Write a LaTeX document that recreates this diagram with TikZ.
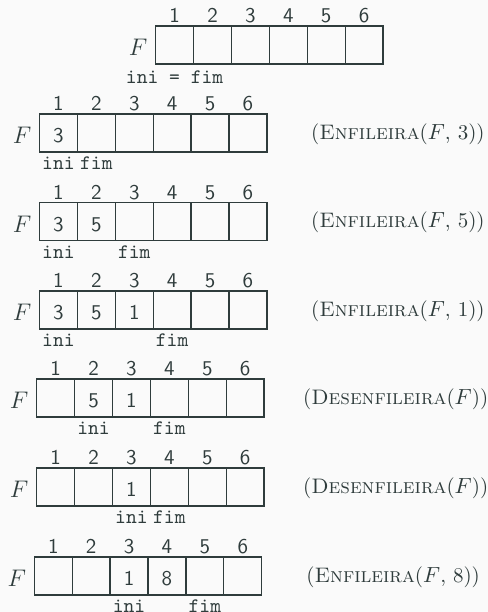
\documentclass[tikz,border=0pt]{standalone}
\usetikzlibrary{calc}
\definecolor{ink}{RGB}{47,60,60}
\definecolor{bg}{RGB}{250,250,250}
\newcommand\qrow[4]{% #1 name, #2 x0, #3 ytop, #4 contents
  \foreach \v [count=\i] in {#4} {
    \node[cell] (#1c\i) at ({#2+(\i-0.5)*37.9},{#3+19}) {\v};
    \node[idx] (#1n\i) at ({#2+(\i-0.5)*37.9},{#3-3.5}) {\i};
  }
  \node[qname] (#1F) at ({#2-17.5},{#3+29.7}) {$F$};
}
\begin{document}
\begin{tikzpicture}[x=0.5pt,y=-0.5pt,
  cell/.style={draw=ink, line width=0.65pt, text=ink, minimum width=18.95pt, minimum height=19pt,
    inner sep=0pt, outer sep=0pt, text height=9.7pt, text depth=0pt, font=\fontsize{10.5}{12}\sffamily},
  idx/.style={anchor=base, inner sep=0pt, text=ink, font=\fontsize{10.5}{12}\sffamily},
  ptr/.style={anchor=base, inner sep=0pt, text=ink, font=\fontsize{10.3}{12}\ttfamily},
  qname/.style={anchor=base, inner sep=0pt, text=ink, font=\fontsize{13}{15}\selectfont},
  op/.style={anchor=base west, inner sep=0pt, text=ink, font=\fontsize{10.5}{12}\selectfont}]
\fill[bg] (0,0) rectangle (488,612);
\useasboundingbox (0,0) rectangle (488,612);

% row 1
\qrow{a}{155.7}{26}{{},{},{},{},{},{}}
\node[ptr] (aptr) at ($(ac1.south)+(0,19)$) {ini = fim};

% row 2
\qrow{b}{39.5}{114}{3,{},{},{},{},{}}
\node[ptr] (bini) at ($(bc1.south)+(0,17.5)$) {ini};
\node[ptr] (bfim) at ($(bc2.south)+(0,17.5)$) {fim};
\node[op] (bop) at (310.7,{114+25.3}) {(\textsc{Enfileira}($F$, 3))};

% row 3
\qrow{c}{39.5}{202.5}{3,5,{},{},{},{}}
\node[ptr] (cini) at ($(cc1.south)+(0,17.5)$) {ini};
\node[ptr] (cfim) at ($(cc3.south)+(0,17.5)$) {fim};
\node[op] (cop) at (310.7,{202.5+25.3}) {(\textsc{Enfileira}($F$, 5))};

% row 4
\qrow{d}{39.5}{291}{3,5,1,{},{},{}}
\node[ptr] (dini) at ($(dc1.south)+(0,17.5)$) {ini};
\node[ptr] (dfim) at ($(dc4.south)+(0,17.5)$) {fim};
\node[op] (dop) at (310.7,{291+25.3}) {(\textsc{Enfileira}($F$, 1))};

% row 5
\qrow{e}{36.7}{379}{{},5,1,{},{},{}}
\node[ptr] (eini) at ($(ec2.south)+(0,17.5)$) {ini};
\node[ptr] (efim) at ($(ec4.south)+(0,17.5)$) {fim};
\node[op] (eop) at (302.7,{379+25.3}) {(\textsc{Desenfileira}($F$))};

% row 6
\qrow{f}{36.7}{468}{{},{},1,{},{},{}}
\node[ptr] (fini) at ($(fc3.south)+(0,17.5)$) {ini};
\node[ptr] (ffim) at ($(fc4.south)+(0,17.5)$) {fim};
\node[op] (fop) at (302.7,{468+25.3}) {(\textsc{Desenfileira}($F$))};

% row 7
\qrow{g}{34.3}{557}{{},{},1,8,{},{}}
\node[ptr] (gini) at ($(gc3.south)+(0,17.5)$) {ini};
\node[ptr] (gfim) at ($(gc5.south)+(0,17.5)$) {fim};
\node[op] (gop) at (306,{557+25.3}) {(\textsc{Enfileira}($F$, 8))};
\end{tikzpicture}
\end{document}
